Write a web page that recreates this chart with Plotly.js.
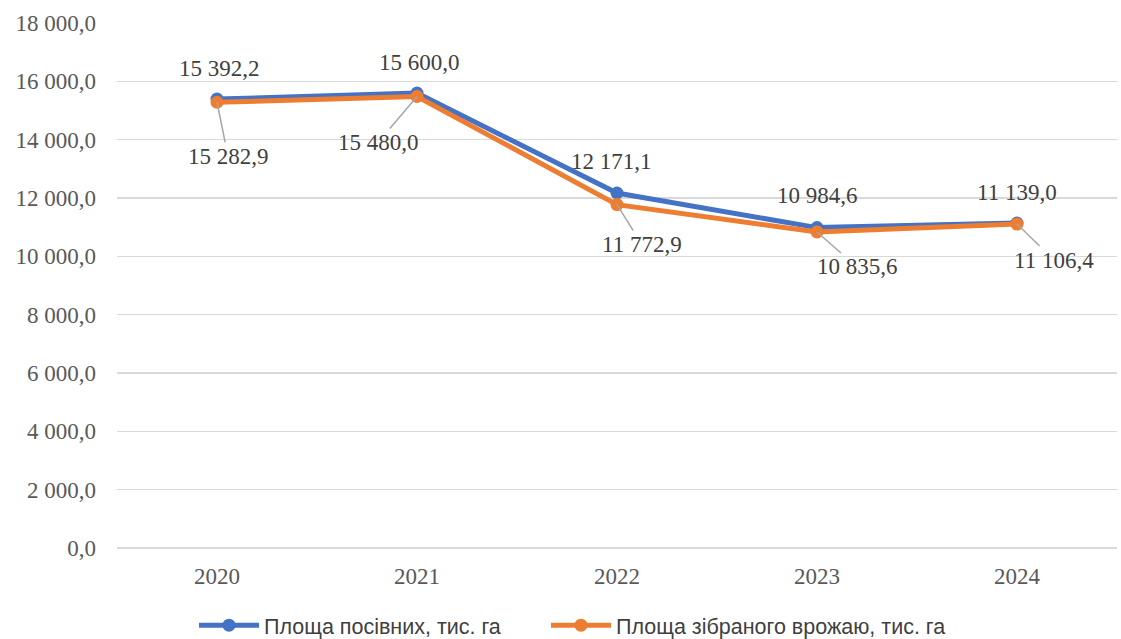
<!DOCTYPE html>
<html>
<head>
<meta charset="utf-8">
<script src="https://cdn.plot.ly/plotly-3.0.1.min.js"></script>
<style>
  html, body { margin: 0; padding: 0; background: #fff; }
  #chart { width: 1121px; height: 639px; }
</style>
</head>
<body>
<div id="chart"></div>
<script>
const years = ['2020', '2021', '2022', '2023', '2024'];
const sownArea = [15392.2, 15600.0, 12171.1, 10984.6, 11139.0];
const harvestedArea = [15282.9, 15480.0, 11772.9, 10835.6, 11106.4];
const seriesNames = ['Площа посівних, тис. га', 'Площа зібраного врожаю, тис. га'];
const yTicks = [0, 2000, 4000, 6000, 8000, 10000, 12000, 14000, 16000, 18000];

// label offsets (px) relative to each point
const sownLabelShift = [[2, 31], [2, 31], [-6, 32], [0, 32], [0, 31]];
const harvestLabelOffset = [[11, 54], [-39, 46], [25, 40], [40, 35], [37, 36]];

function fmt(v) {
  const parts = v.toFixed(1).split('.');
  const intPart = parts[0].replace(/\B(?=(\d{3})+(?!\d))/g, ' ');
  return intPart + ',' + parts[1];
}

const blue = '#4472C4';
const orange = '#ED7D31';
const serif = 'Liberation Serif, Times New Roman, serif';
const legendFont = { family: 'Liberation Sans, Arial, sans-serif', size: 21.5, color: '#404040' };

const traces = [
  {
    x: years, y: sownArea, name: seriesNames[0], type: 'scatter', mode: 'lines+markers',
    line: { color: blue, width: 5 }, marker: { color: blue, size: 13 }, legend: 'legend'
  },
  {
    x: years, y: harvestedArea, name: seriesNames[1], type: 'scatter', mode: 'lines+markers',
    line: { color: orange, width: 5 }, marker: { color: orange, size: 13 }, legend: 'legend2'
  }
];

// category axis: annotations are placed by category index
const annotations = [];
years.forEach((yr, i) => {
  annotations.push({
    x: i, y: sownArea[i], xref: 'x', yref: 'y', text: fmt(sownArea[i]),
    showarrow: false, xshift: sownLabelShift[i][0], yshift: sownLabelShift[i][1],
    font: { family: serif, size: 23, color: '#404040' }
  });
  annotations.push({
    x: i, y: harvestedArea[i], xref: 'x', yref: 'y', text: fmt(harvestedArea[i]),
    showarrow: true, arrowhead: 0, arrowwidth: 1.5, arrowcolor: '#a6a6a6',
    ax: harvestLabelOffset[i][0], ay: harvestLabelOffset[i][1], standoff: 0,
    font: { family: serif, size: 23, color: '#404040' }
  });
});

const layout = {
  width: 1121, height: 639,
  margin: { l: 117, r: 4, t: 23, b: 91, autoexpand: false },
  paper_bgcolor: '#fff', plot_bgcolor: '#fff',
  separators: ', ',
  showlegend: true,
  legend: {
    orientation: 'h', x: 0.077, xanchor: 'left', y: -0.147, yanchor: 'middle',
    font: legendFont, itemwidth: 60
  },
  legend2: {
    orientation: 'h', x: 0.429, xanchor: 'left', y: -0.147, yanchor: 'middle',
    font: legendFont, itemwidth: 60
  },
  xaxis: {
    type: 'category', range: [-0.5, 4.5], showgrid: false, zeroline: false,
    showline: false, ticks: '', ticklabelstandoff: 12,
    tickfont: { family: serif, size: 23, color: '#595959' }
  },
  yaxis: {
    range: [0, 18000], tickvals: yTicks, tickformat: ',.1f',
    showgrid: true, gridcolor: '#d9d9d9', gridwidth: 1.5,
    zeroline: true, zerolinecolor: '#d9d9d9', zerolinewidth: 1.5,
    showline: false, ticks: '', ticklabelstandoff: 20,
    tickfont: { family: serif, size: 23, color: '#595959' }
  },
  annotations: annotations
};

Plotly.newPlot('chart', traces, layout, { displayModeBar: false, staticPlot: true });
</script>
</body>
</html>
